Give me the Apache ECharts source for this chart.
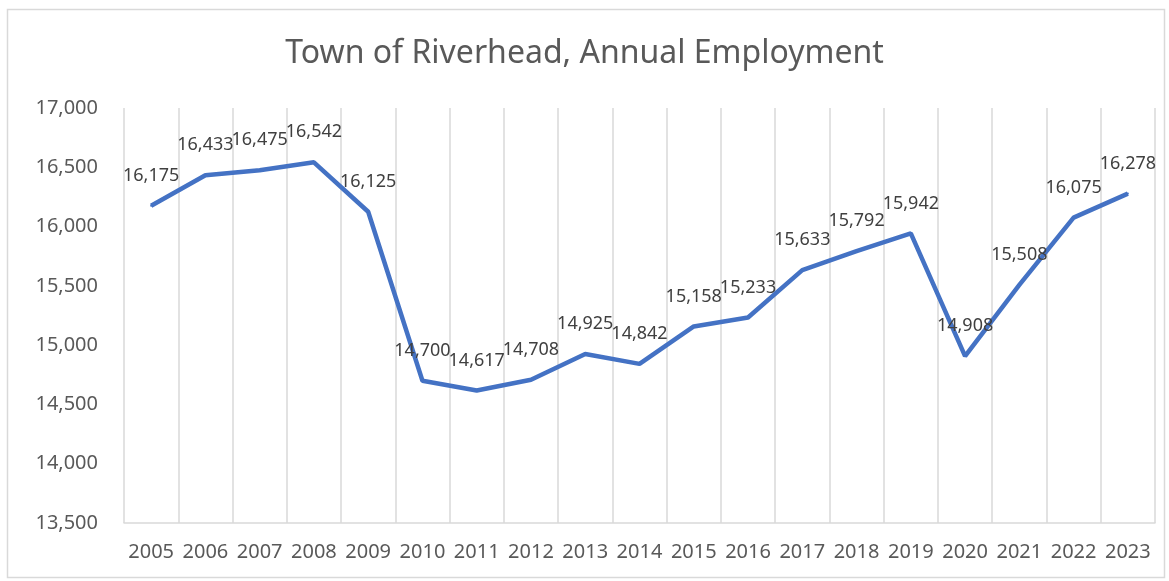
<!DOCTYPE html>
<html><head><meta charset="utf-8">
<script src="https://cdn.jsdelivr.net/npm/echarts@6/dist/echarts.min.js"></script>
<style>html,body{margin:0;padding:0;background:#fff}#c{width:1169px;height:581px}</style>
</head><body><div id="c"></div>
<script>
const years = ['2005','2006','2007','2008','2009','2010','2011','2012','2013','2014','2015','2016','2017','2018','2019','2020','2021','2022','2023'];
const employment = [16175,16433,16475,16542,16125,14700,14617,14708,14925,14842,15158,15233,15633,15792,15942,14908,15508,16075,16278];
const titleText = 'Town of Riverhead, Annual Employment';
const font = '"Noto Sans", "Open Sans", sans-serif';
const chart = echarts.init(document.getElementById('c'), null, {renderer:'canvas'});
chart.setOption({
  animation:false,
  backgroundColor:'#fff',
  graphic:[{type:'rect',shape:{x:7.5,y:9.5,width:1157,height:568},style:{fill:'none',stroke:'#d9d9d9',lineWidth:1.5},silent:true}],
  title:{text:titleText,left:'center',top:33,textStyle:{fontFamily:font,fontSize:32,fontWeight:'normal',color:'#595959'}},
  grid:{left:124,right:14,top:108,bottom:58,containLabel:false},
  xAxis:{type:'category',data:years,boundaryGap:true,
    axisLine:{show:true,lineStyle:{color:'#d9d9d9',width:1.5}},
    axisTick:{show:false,interval:0},
    axisLabel:{fontFamily:font,fontSize:20,color:'#595959',margin:19,interval:0},
    splitLine:{show:true,interval:0,lineStyle:{color:'#d9d9d9',width:1.5}}},
  yAxis:{type:'value',min:13500,max:17000,interval:500,
    axisLine:{show:false},axisTick:{show:false},splitLine:{show:false},
    axisLabel:{fontFamily:font,fontSize:20,color:'#595959',margin:26,
      formatter:v=>v.toLocaleString('en-US')}},
  series:[{type:'line',data:employment,showSymbol:true,showAllSymbol:true,symbol:'circle',symbolSize:2,
    itemStyle:{color:'#4472C4'},
    lineStyle:{color:'#4472C4',width:4.5},
    label:{show:true,position:'top',distance:20,fontFamily:font,fontSize:18,color:'#404040',
      formatter:p=>p.value.toLocaleString('en-US')}}]
});
</script></body></html>
